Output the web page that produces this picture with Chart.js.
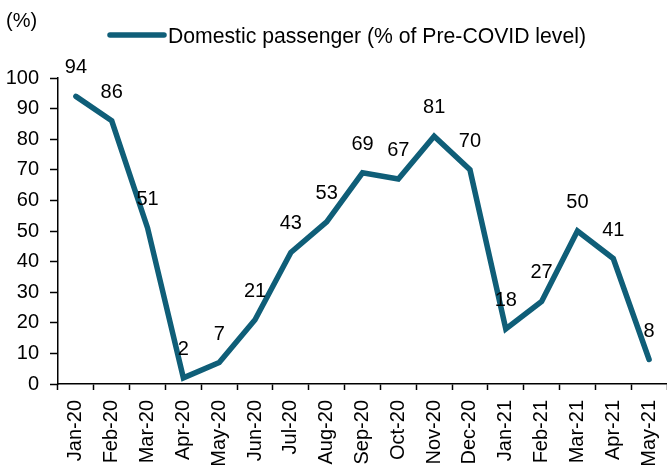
<!DOCTYPE html>
<html>
<head>
<meta charset="utf-8">
<script src="https://cdn.jsdelivr.net/npm/chart.js@4/dist/chart.umd.min.js"></script>
<style>
html,body{margin:0;padding:0;background:#fff;}
#wrap{position:relative;width:667px;height:471px;}
</style>
</head>
<body>
<div id="wrap"><canvas id="c" width="667" height="471"></canvas></div>
<script>
const categories = ["Jan-20","Feb-20","Mar-20","Apr-20","May-20","Jun-20","Jul-20","Aug-20","Sep-20","Oct-20","Nov-20","Dec-20","Jan-21","Feb-21","Mar-21","Apr-21","May-21"];
const domesticPassenger = [94,86,51,2,7,21,43,53,69,67,81,70,18,27,50,41,8];
const seriesName = "Domestic passenger (% of Pre-COVID level)";
const yUnit = "(%)";

const LINE = "#0f5e78";
const FONT = "'Liberation Sans', Arial, sans-serif";

const overlay = {
  id: 'overlay',
  afterDatasetsDraw(chart) {
    const ctx = chart.ctx;
    const meta = chart.getDatasetMeta(0);
    ctx.save();
    ctx.fillStyle = '#000';
    ctx.font = "20px " + FONT;
    ctx.textAlign = 'center';
    ctx.textBaseline = 'alphabetic';
    meta.data.forEach((pt, i) => {
      ctx.fillText(String(domesticPassenger[i]), pt.x, pt.y - 23);
    });
    // unit label
    ctx.textAlign = 'left';
    ctx.fillText(yUnit, 6, 27);
    // legend
    ctx.strokeStyle = LINE;
    ctx.lineWidth = 5.5;
    ctx.lineCap = 'round';
    ctx.beginPath();
    ctx.moveTo(110, 35);
    ctx.lineTo(164, 35);
    ctx.stroke();
    ctx.font = "21.2px " + FONT;
    ctx.fillText(seriesName, 168, 43);
    ctx.restore();
  }
};

new Chart(document.getElementById('c'), {
  type: 'line',
  data: {
    labels: categories,
    datasets: [{
      label: seriesName,
      data: domesticPassenger,
      borderColor: LINE,
      backgroundColor: LINE,
      borderWidth: 5.5,
      borderJoinStyle: 'miter',
      borderCapStyle: 'round',
      pointRadius: 0,
      tension: 0,
      fill: false
    }]
  },
  options: {
    responsive: false,
    animation: false,
    layout: { padding: { top: 78, left: 0, right: 0, bottom: 0 } },
    plugins: { legend: { display: false }, tooltip: { enabled: false } },
    scales: {
      x: {
        type: 'category',
        offset: true,
        afterFit(s) { s.height = 87; s.paddingLeft = 0; s.paddingRight = 0; },
        grid: { offset: true, drawOnChartArea: false, drawTicks: true, tickLength: 6, tickColor: '#000', tickWidth: 1.5 },
        border: { display: true, color: '#000', width: 1.5 },
        ticks: { color: '#000', font: { family: FONT, size: 20 }, maxRotation: 90, minRotation: 90, padding: 10, autoSkip: false }
      },
      y: {
        min: 0, max: 100,
        afterFit(s) { s.width = 58; s.paddingTop = 0; s.paddingBottom = 0; },
        grid: { drawOnChartArea: false, drawTicks: true, tickLength: 8, tickColor: '#000', tickWidth: 1.5 },
        border: { display: true, color: '#000', width: 1.5 },
        ticks: { stepSize: 10, color: '#000', font: { family: FONT, size: 20 }, padding: 11 }
      }
    }
  },
  plugins: [overlay]
});
</script>
</body>
</html>
